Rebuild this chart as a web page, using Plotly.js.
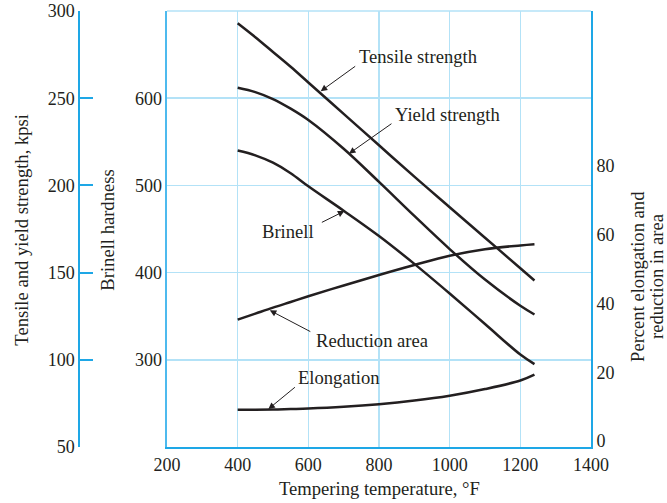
<!DOCTYPE html>
<html>
<head>
<meta charset="utf-8">
<script src="https://cdn.plot.ly/plotly-3.0.1.min.js"></script>
<style>html,body{margin:0;padding:0;background:#fff;}#chart{width:667px;height:503px;}</style>
</head>
<body>
<div id="chart"></div>
<script>
// ---- data ----
const temps = [400, 450, 500, 550, 600, 700, 800, 900, 1000, 1100, 1200, 1240];
const tensileKpsi = [293, 285, 276.5, 268, 259, 241, 223, 205, 187.5, 170, 152.5, 145.5];
const yieldKpsi = [256, 253.5, 249.5, 244, 237.5, 221, 202, 182.5, 163.5, 146, 131, 126];
const brinellHB = [540, 534.5, 526, 514, 499, 471, 442, 410, 376, 341, 306, 295];
const reductionPct = [35.3, 37.05, 38.8, 40.45, 42.1, 45.25, 48.3, 51.2, 53.9, 55.8, 56.9, 57.25];
const elongationPct = [9.1, 9.1, 9.15, 9.3, 9.45, 9.95, 10.7, 11.75, 13.15, 15.1, 17.6, 19.3];

const xTicks = [200, 400, 600, 800, 1000, 1200, 1400];
const kpsiTicks = [50, 100, 150, 200, 250, 300];
const brinellTicks = [300, 400, 500, 600];
const pctTicks = [0, 20, 40, 60, 80];

const xTitle = 'Tempering temperature, °F';
const kpsiTitle = 'Tensile and yield strength, kpsi';
const brinellTitle = 'Brinell hardness';
const pctTitleLine1 = 'Percent elongation and';
const pctTitleLine2 = 'reduction in area';

// ---- styles ----
const ink = '#231f20';
const blue = '#1ea7e6';
const gridBlue = '#b3e2f7';
const fontFam = '"Liberation Serif", "Times New Roman", serif';
const textSize = 18.6;

function curve(y, axis) {
  return {x: temps, y: y, yaxis: axis, type: 'scatter', mode: 'lines',
          line: {color: ink, width: 2.5, shape: 'spline', smoothing: 1},
          hoverinfo: 'skip'};
}
const data = [
  curve(tensileKpsi, 'y2'),
  curve(yieldKpsi, 'y2'),
  curve(brinellHB, 'y'),
  curve(reductionPct, 'y3'),
  curve(elongationPct, 'y3')
];

function label(text, x, y) {
  return {text: text, x: x, y: y, xref: 'x', yref: 'y', showarrow: false,
          xanchor: 'center', yanchor: 'middle', font: {size: textSize, color: ink, family: fontFam}};
}
function arrow(x, y, yref, ax, ay) {
  return {text: '', x: x, y: y, xref: 'x', yref: yref, ax: ax, ay: ay,
          showarrow: true, arrowhead: 2, arrowsize: 1.3, arrowwidth: 1, arrowcolor: ink, standoff: 0};
}
function title(text, x, y, angle) {
  return {text: text, x: x, y: y, xref: 'paper', yref: 'paper', showarrow: false,
          xanchor: 'center', yanchor: 'middle', textangle: angle,
          font: {size: textSize, color: ink, family: fontFam}};
}

const annotations = [
  label('Tensile strength', 913, 648),
  label('Yield strength', 994, 581),
  label('Brinell', 542, 447),
  label('Reduction area', 781, 322),
  label('Elongation', 688, 280),
  arrow(635, 254, 'y2', 36, -26),
  arrow(715, 218.2, 'y2', 44, -31),
  arrow(702, 470.5, 'y', -24, 12),
  arrow(491, 38, 'y3', 42, 22),
  arrow(487, 9.3, 'y3', 28, -23),
  title(kpsiTitle, -0.072, 0.498, -90),
  title(brinellTitle, 0.090, 0.498, -90),
  title(pctTitleLine1, (638 - 60) / 531, 0.39, -90),
  title(pctTitleLine2, (657 - 60) / 531, 0.39, -90),
  title(xTitle, 0.601, -0.096, 0)
];

const tickFont = {size: 18, color: ink, family: fontFam};

const layout = {
  width: 667, height: 503,
  margin: {l: 60, r: 76, t: 11, b: 56},
  paper_bgcolor: '#ffffff', plot_bgcolor: '#ffffff',
  showlegend: false,
  font: {family: fontFam, size: 18, color: ink},
  xaxis: {domain: [0.2015, 1], range: [200, 1400], tickmode: 'array', tickvals: xTicks,
          showgrid: true, gridcolor: gridBlue, gridwidth: 1.5, zeroline: false,
          showline: true, linecolor: blue, linewidth: 2, ticks: '', tickfont: tickFont},
  yaxis: {range: [200, 700], tickmode: 'array', tickvals: brinellTicks,
          showgrid: true, gridcolor: gridBlue, gridwidth: 1.5, zeroline: false,
          showline: true, linecolor: '#4dbaee', linewidth: 1.5, ticks: '', tickfont: tickFont},
  yaxis2: {overlaying: 'y', anchor: 'free', position: 0.0363, side: 'left',
           range: [50, 300], tickmode: 'array', tickvals: kpsiTicks,
           showgrid: false, zeroline: false, showline: true, linecolor: blue, linewidth: 2,
           ticks: 'inside', ticklen: 13, tickwidth: 2, tickcolor: blue, tickfont: tickFont},
  yaxis3: {overlaying: 'y', anchor: 'x', side: 'right',
           range: [-1.75, 125.1], tickmode: 'array', tickvals: pctTicks,
           showgrid: false, zeroline: false, showline: true, linecolor: blue, linewidth: 2,
           ticks: '', tickfont: tickFont},
  shapes: [{type: 'line', xref: 'x', yref: 'paper', x0: 200, x1: 1400, y0: 1, y1: 1,
            line: {color: gridBlue, width: 1.5}, layer: 'below'}],
  annotations: annotations
};

Plotly.newPlot('chart', data, layout, {staticPlot: true, displayModeBar: false});
</script>
</body>
</html>
